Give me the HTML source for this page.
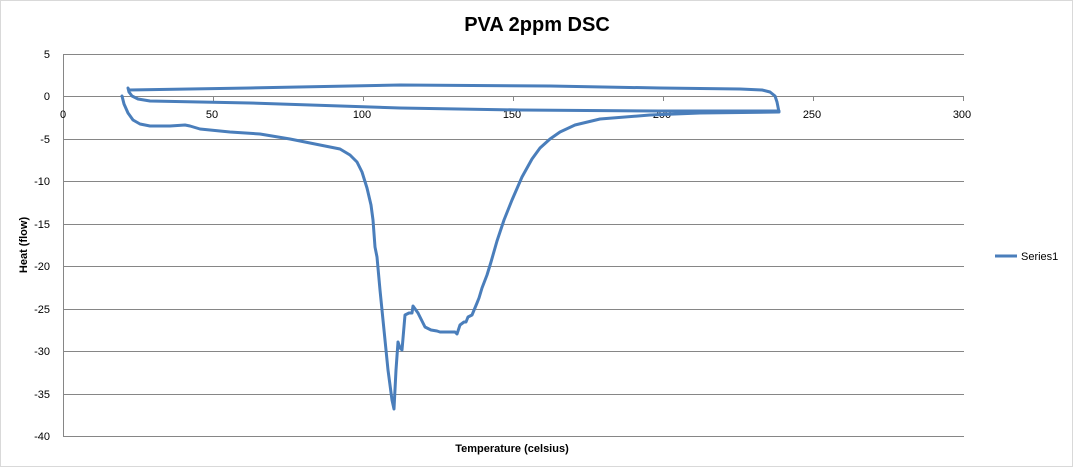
<!DOCTYPE html>
<html><head><style>
body{margin:0;background:#fff;}
svg text{font-family:"Liberation Sans",sans-serif;}
</style></head><body>
<svg width="1073" height="467" viewBox="0 0 1073 467" xmlns="http://www.w3.org/2000/svg">
<rect x="0.5" y="0.5" width="1072" height="466" fill="#fff" stroke="#d9d9d9"/>
<g stroke="#868686" stroke-width="1">
<line x1="63" y1="54.5" x2="964" y2="54.5"/>
<line x1="63" y1="139.5" x2="964" y2="139.5"/>
<line x1="63" y1="181.5" x2="964" y2="181.5"/>
<line x1="63" y1="224.5" x2="964" y2="224.5"/>
<line x1="63" y1="266.5" x2="964" y2="266.5"/>
<line x1="63" y1="309.5" x2="964" y2="309.5"/>
<line x1="63" y1="351.5" x2="964" y2="351.5"/>
<line x1="63" y1="394.5" x2="964" y2="394.5"/>
<line x1="63" y1="436.5" x2="964" y2="436.5"/>
<line x1="63.5" y1="54" x2="63.5" y2="436"/>
<line x1="63" y1="96.5" x2="964" y2="96.5"/>
<line x1="213.5" y1="96" x2="213.5" y2="101"/>
<line x1="363.5" y1="96" x2="363.5" y2="101"/>
<line x1="513.5" y1="96" x2="513.5" y2="101"/>
<line x1="663.5" y1="96" x2="663.5" y2="101"/>
<line x1="813.5" y1="96" x2="813.5" y2="101"/>
<line x1="963.5" y1="96" x2="963.5" y2="101"/>
</g>
<g font-size="11" fill="#000" text-anchor="end">
<text x="50" y="58">5</text><text x="50" y="100">0</text><text x="50" y="143">-5</text>
<text x="50" y="185">-10</text><text x="50" y="228">-15</text><text x="50" y="270">-20</text>
<text x="50" y="313">-25</text><text x="50" y="355">-30</text><text x="50" y="398">-35</text>
<text x="50" y="440">-40</text>
</g>
<g font-size="11" fill="#000" text-anchor="middle">
<text x="63" y="118">0</text><text x="212" y="118">50</text><text x="362" y="118">100</text>
<text x="512" y="118">150</text><text x="662" y="118">200</text><text x="812" y="118">250</text>
<text x="962" y="118">300</text>
</g>
<text x="537" y="31" font-size="20" font-weight="bold" text-anchor="middle">PVA 2ppm DSC</text>
<text x="512" y="452" font-size="11" font-weight="bold" text-anchor="middle">Temperature (celsius)</text>
<text transform="translate(27,245) rotate(-90)" font-size="11" font-weight="bold" text-anchor="middle">Heat (flow)</text>
<line x1="995" y1="256" x2="1017" y2="256" stroke="#4a7ebb" stroke-width="3"/>
<text x="1021" y="260" font-size="11">Series1</text>
<path fill="none" stroke="#4a7ebb" stroke-width="3" stroke-linejoin="round" stroke-linecap="round" d="M122,96 L124,104 L128,113 L133,120 L140,124 L150,126 L170,126 L185,125 L190,126 L200,129 L230,132 L260,134 L290,139 L310,143 L325,146 L340,149 L350,155 L357,162 L362,172 L367,188 L371,205 L373,220 L375,247 L377,257 L380,290 L384,330 L388,370 L392,400 L394,409 L396,370 L398,342 L400,348 L402,350 L405,315 L409,313 L412,313 L413,306 L418,313 L425,327 L431,330 L437,331 L440,332 L455,332 L457,334 L460,325 L464,322 L466,322 L468,317 L472,315 L477,303 L479,298 L482,288 L487,275 L491,262 L497,241 L504,220 L512,200 L522,177 L532,159 L540,148 L550,139 L560,132 L575,125 L600,119 L650,115 L700,113 L779,112 L779,111 L660,111 L520,110 L400,108 L250,103 L150,101 L138,99 L132,96 L129,92 L128,88 L129,90 L250,88 L400,85 L550,86 L660,88 L740,89 L762,90 L770,92 L775,96 L777,102 L779,112"/>
</svg>
</body></html>
